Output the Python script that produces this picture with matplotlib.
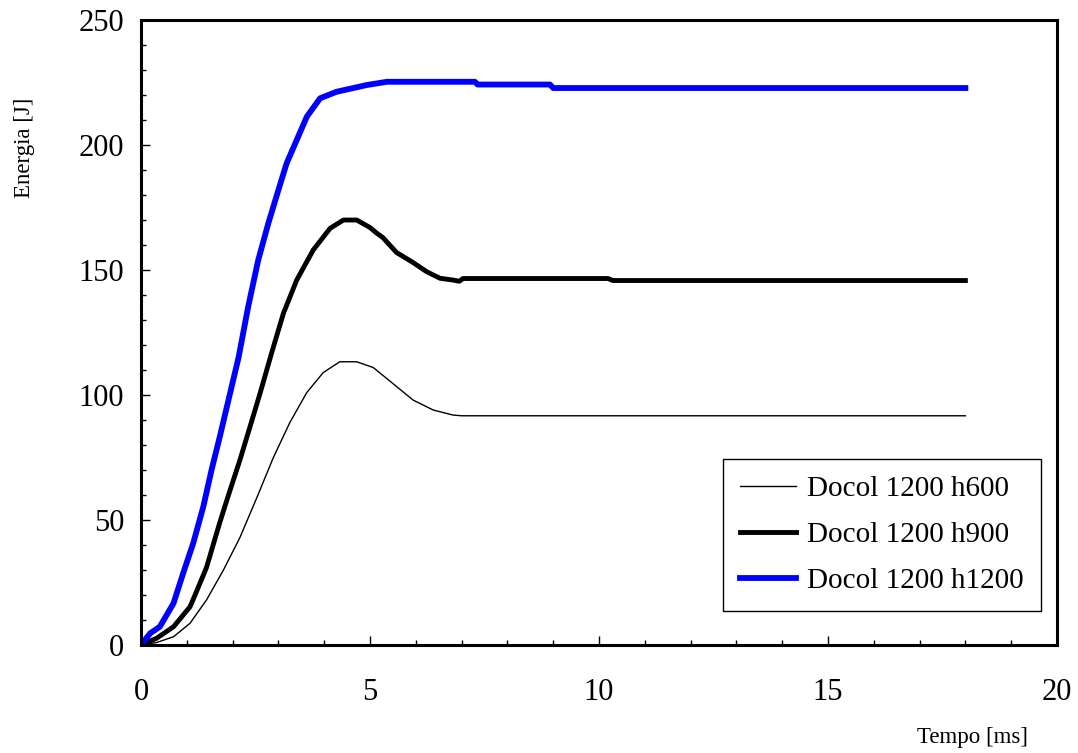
import numpy as np
import matplotlib
matplotlib.use('Agg')
import matplotlib.pyplot as plt
from matplotlib.ticker import MultipleLocator

plt.rcParams['font.family'] = ['Liberation Serif', 'DejaVu Serif']

# Docol 1200 h600 (thin black)
t_h600 = [0.0, 0.34, 0.71, 1.07, 1.43, 1.80, 2.16, 2.53, 2.89, 3.25, 3.62, 3.98,
          4.34, 4.71, 5.07, 5.44, 5.94, 6.38, 6.81, 7.0, 18.0]
e_h600 = [0.0, 1.0, 3.3, 8.7, 18, 30, 43, 59, 75, 89, 101, 109,
          113.3, 113.3, 111, 105.5, 98, 94, 92, 91.7, 91.7]

# Docol 1200 h900 (thick black)
t_h900 = [0.0, 0.34, 0.71, 1.07, 1.18, 1.43, 1.72, 1.91, 2.16, 2.38, 2.6, 2.85,
          3.11, 3.40, 3.76, 4.13, 4.42, 4.71, 5.0, 5.15, 5.28, 5.58, 5.94, 6.24,
          6.53, 6.81, 6.95, 7.03, 10.2, 10.3, 18.0]
e_h900 = [0.0, 2.7, 7.3, 15.3, 20, 31, 49, 60, 74, 87.3, 100.7, 116.7,
          132.7, 146, 158, 166.7, 170, 170, 167, 164.7, 163, 157, 153, 149.3,
          146.7, 146, 145.5, 146.6, 146.6, 145.8, 145.8]

# Docol 1200 h1200 (blue)
t_h1200 = [0.0, 0.2, 0.41, 0.71, 0.92, 1.14, 1.36, 1.54, 1.72, 1.91, 2.13, 2.34,
           2.56, 2.78, 3.0, 3.18, 3.40, 3.62, 3.91, 4.27, 4.93, 5.37, 7.29, 7.35,
           8.93, 9.0, 18.0]
e_h1200 = [0.0, 4.7, 7.3, 16.7, 28.7, 40.7, 55.3, 70, 83.3, 98, 115, 135.3,
           154, 168.7, 182, 192.7, 202, 211.3, 218.7, 221.3, 224, 225.3, 225.3, 224.2,
           224.2, 222.8, 222.8]

fig = plt.figure(figsize=(10.78, 7.53), dpi=100)
ax = fig.add_axes([0.1308, 0.1434, 0.8497, 0.83])

ax.plot(t_h600, e_h600, color='black', lw=1.0, label='Docol 1200 h600')
ax.plot(t_h900, e_h900, color='black', lw=3.5, label='Docol 1200 h900')
ax.plot(t_h1200, e_h1200, color='#0000ff', lw=4.2, label='Docol 1200 h1200')

ax.set_xlim(0, 20)
ax.set_ylim(0, 250)
ax.xaxis.set_major_locator(MultipleLocator(5))
ax.xaxis.set_minor_locator(MultipleLocator(1))
ax.yaxis.set_major_locator(MultipleLocator(50))
ax.yaxis.set_minor_locator(MultipleLocator(10))

for s in ax.spines.values():
    s.set_linewidth(2.2)
ax.tick_params(which='both', direction='in', top=False, right=False, width=1.0)
ax.tick_params(which='major', length=6.5, labelsize=22)
ax.tick_params(axis='x', which='major', pad=24)
ax.tick_params(axis='y', which='major', pad=12)
ax.tick_params(which='minor', length=3.5)

ax.set_xlabel('Tempo [ms]', fontsize=16.5)
ax.set_ylabel('Energia [J]', fontsize=16.5)
ax.xaxis.set_label_coords(0.908, -0.131)
ax.yaxis.set_label_coords(-0.116, 0.795)

leg = ax.legend(loc='lower right', bbox_to_anchor=(0.983, 0.054), fontsize=21,
                frameon=True, fancybox=False, edgecolor='black', framealpha=1,
                handlelength=1.9, labelspacing=0.66, borderpad=0.6, handletextpad=0.4,
                borderaxespad=0)
leg.get_frame().set_linewidth(1.0)

fig.savefig('out.png', dpi=100)
